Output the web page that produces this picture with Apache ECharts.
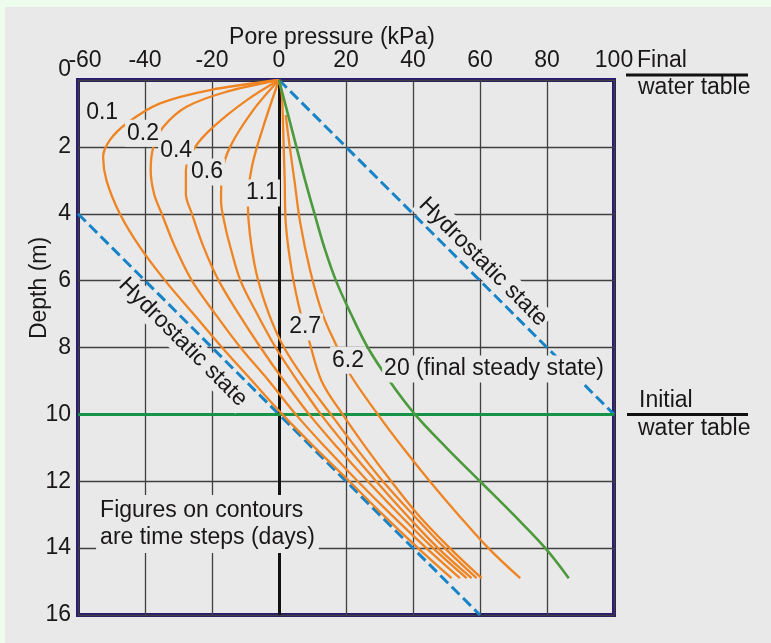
<!DOCTYPE html>
<html><head><meta charset="utf-8">
<script src="https://cdn.jsdelivr.net/npm/echarts/dist/echarts.min.js"></script>
<style>html,body{margin:0;padding:0;background:#eefcee;}#c{width:771px;height:643px;}</style>
</head><body><div id="c"></div>
<script>
// ---------- data ----------
const xTicks = [-60, -40, -20, 0, 20, 40, 60, 80, 100];
const yTicks = [0, 2, 4, 6, 8, 10, 12, 14, 16];

const c01_depth = [0, 0.3, 0.7, 1.3, 1.8, 2.3, 3, 4, 5, 6, 7, 8, 9, 10, 11, 12, 13, 14, 14.9];
const c01_p     = [0, -20.6, -35.5, -45.5, -50.5, -52.5, -51.5, -47.5, -41.5, -34, -25.5, -17, -8, 1, 10.8, 21, 31, 41.5, 51.5];

const c02_depth = [0, 0.35, 0.8, 1.4, 2, 2.7, 3.4, 4, 5, 6, 7, 8, 9, 10, 11, 12, 13, 14, 14.9];
const c02_p     = [0, -15.6, -27.6, -34.5, -37.5, -38.3, -37.3, -35, -31, -26, -19, -11.5, -3, 5, 14, 23.5, 33.5, 44, 54];

const c04_depth = [0, 0.6, 1.4, 2, 2.7, 3.4, 4, 5, 6, 7, 8, 9, 10, 11, 12, 13, 14, 14.9];
const c04_p     = [0, -9.6, -19.6, -25, -27.8, -27.8, -26, -22.5, -18, -12, -5.5, 1.5, 9, 17.5, 26.5, 36, 46, 56];

const c06_depth = [0, 0.9, 2, 2.8, 3.6, 4.4, 5, 6, 7, 8, 9, 10, 11, 12, 13, 14, 14.9];
const c06_p     = [0, -7.7, -14.6, -17, -17.3, -16, -14.5, -11.5, -6.5, -1, 5.5, 12.5, 20.5, 29, 38, 47.5, 57.5];

const c11_depth = [0, 1.4, 2.6, 3.7, 4.6, 5.8, 7, 8, 9, 10, 11, 12, 13, 14, 14.9];
const c11_p     = [0, -4.7, -8.1, -9.3, -8.7, -6.7, -3, 1.5, 8, 15.5, 23, 31, 40, 49.5, 59];

const c27_depth = [0, 0.4, 1, 2, 3, 4.25, 5.7, 7, 7.7, 9, 10, 11, 12, 13, 14, 14.9];
const c27_p     = [0, 0.8, 1.1, 1.4, 1.7, 2.0, 3.8, 6.5, 8.7, 12.7, 19, 26, 33.5, 41.5, 51, 60.5];

const c62_depth = [1.05, 2, 3, 4.25, 5.7, 7, 8, 8.8, 10, 11, 12, 13, 14, 14.9];
const c62_p     = [2, 3.2, 4.6, 6.3, 9.3, 13, 17.4, 21.2, 29.5, 37, 45, 53.5, 62.5, 72];

const c20_depth = [0, 1, 2, 3, 4, 5, 6, 7, 8, 9, 10, 11, 12, 13, 14, 14.9];
const c20_p     = [0, 2.6, 5.2, 7.8, 10.6, 13.5, 17, 21.5, 26.5, 33, 40.6, 50, 60, 70, 79.5, 86.5];

const hydroFinal_p = [0, 100];
const hydroFinal_depth = [0, 10];
const hydroInitial_p = [-60, 60];
const hydroInitial_depth = [4, 16];
const initialWaterTableDepth = 10;

// ---------- styling / layout ----------
const FONT = '"Liberation Sans", Arial, sans-serif';
const TXT = '#1a1718';
const FS = 23;
const PANEL = '#e9e9e9';
const ORANGE = '#ef8422';

function pairs(ps, ds) { return ps.map((p, i) => [p, ds[i]]); }

const orangeCurves = [
  [c01_p, c01_depth], [c02_p, c02_depth], [c04_p, c04_depth], [c06_p, c06_depth],
  [c11_p, c11_depth], [c27_p, c27_depth], [c62_p, c62_depth]
];

// annotation anchors (data units)
const annotations = [
  {t: '0.1', at: [-52.8, 0.99]},
  {t: '0.2', at: [-40.6, 1.59]},
  {t: '0.4', at: [-30.7, 2.12]},
  {t: '0.6', at: [-21.5, 2.75]},
  {t: '1.1', at: [-5.1, 3.38]},
  {t: '2.7', at: [7.8, 7.39]},
  {t: '6.2', at: [20.6, 8.38]},
  {t: '20 (final steady state)', at: [64.2, 8.64]},
  {t: 'Hydrostatic state', at: [60.9, 5.44], rot: -45},
  {t: 'Hydrostatic state', at: [-28.7, 7.84], rot: -45},
  {t: 'Figures on contours\nare time steps (days)', at: [-54.6, 13.28], left: true}
];

const series = [];
series.push({
  type: 'line', data: [], z: 2, silent: true,
  markLine: { silent: true, symbol: 'none', label: {show: false},
    lineStyle: {color: '#111', width: 3, type: 'solid'},
    data: [{xAxis: 0}] }
});
series.push({
  type: 'line', data: [], z: 3, silent: true,
  markLine: { silent: true, symbol: 'none', label: {show: false},
    lineStyle: {color: '#159447', width: 3, type: 'solid'},
    data: [{yAxis: initialWaterTableDepth}] }
});
[[hydroFinal_p, hydroFinal_depth], [hydroInitial_p, hydroInitial_depth]].forEach(([p, d]) => {
  series.push({ type: 'line', data: pairs(p, d), showSymbol: false, z: 4, silent: true,
    lineStyle: {color: '#1784c8', width: 3, type: [11, 5]} });
});
orangeCurves.forEach(([p, d]) => {
  series.push({ type: 'line', data: pairs(p, d), showSymbol: false, smooth: 0.35, z: 5, silent: true,
    lineStyle: {color: ORANGE, width: 2.3} });
});
series.push({ type: 'line', data: pairs(c20_p, c20_depth), showSymbol: false, smooth: 0.35, z: 5, silent: true,
  lineStyle: {color: '#4b9a3c', width: 2.6} });

const option = {
  backgroundColor: 'transparent',
  animation: false,
  grid: { left: 78, right: 157, top: 80, bottom: 28, show: true,
    borderColor: '#2a1a6c', borderWidth: 4, backgroundColor: 'transparent' },
  xAxis: {
    type: 'value', position: 'top', min: xTicks[0], max: xTicks[xTicks.length - 1], interval: 20,
    axisLine: {show: false}, axisTick: {show: false},
    axisLabel: { margin: 8, fontFamily: FONT, fontSize: FS, color: TXT,
      formatter: v => v === -60 ? '{m|-60}' : String(v),
      rich: { m: {padding: [0, 0, 0, 14], fontFamily: FONT, fontSize: FS, color: TXT} } },
    splitLine: {show: true, lineStyle: {color: '#404040', width: 1.3}}
  },
  yAxis: {
    type: 'value', inverse: true, min: yTicks[0], max: yTicks[yTicks.length - 1], interval: 2,
    axisLine: {show: false}, axisTick: {show: false},
    axisLabel: { margin: 7, fontFamily: FONT, fontSize: FS, color: TXT,
      formatter: v => v === 0 ? '{z|0}' : String(v),
      rich: { z: {padding: [0, 0, 20, 0], fontFamily: FONT, fontSize: FS, color: TXT} } },
    splitLine: {show: true, lineStyle: {color: '#404040', width: 1.3}}
  },
  series: series
};

const chart = echarts.init(document.getElementById('c'));
chart.setOption(option);

const px = v => chart.convertToPixel({gridIndex: 0}, v);
const tl = px([xTicks[xTicks.length - 1], 0]);
const wt = px([0, initialWaterTableDepth]);
const R = tl[0], T = tl[1], W = wt[1];
const txt = (x, y, s, extra) => Object.assign({ type: 'text', x: x, y: y, silent: true, z: 100,
  style: { text: s, fontFamily: FONT, fontSize: FS, fill: TXT, textAlign: 'left', textVerticalAlign: 'middle' } }, extra || {});
const hl = (x1, x2, y) => ({ type: 'line', silent: true, z: 100, shape: {x1: x1, y1: y, x2: x2, y2: y}, style: {stroke: '#111', lineWidth: 3} });

const annoGraphics = annotations.map(a => {
  const p = px(a.at);
  return { type: 'text', x: p[0], y: p[1], silent: true, z: 100,
    rotation: (a.rot || 0) * Math.PI / 180,
    style: { text: a.t, fontFamily: FONT, fontSize: FS, fill: TXT, lineHeight: 27,
      textAlign: a.left ? 'left' : 'center', textVerticalAlign: 'middle',
      backgroundColor: PANEL, padding: a.left ? [2, 4, 2, 4] : [0, 2, 0, 2] } };
});

chart.setOption({
  graphic: [
    { type: 'rect', z: -10, silent: true, shape: {x: 5, y: 7, width: 771, height: 643}, style: {fill: PANEL} },
    { type: 'text', silent: true, x: 332, y: 38, z: 100,
      style: { text: 'Pore pressure (kPa)', fontFamily: FONT, fontSize: FS, fill: TXT, textAlign: 'center', textVerticalAlign: 'middle' } },
    { type: 'text', silent: true, x: 40, y: 288, rotation: Math.PI / 2, z: 100,
      style: { text: 'Depth (m)', fontFamily: FONT, fontSize: FS, fill: TXT, textAlign: 'center', textVerticalAlign: 'middle' } },
    txt(R + 23, T - 19, 'Final'),
    hl(R + 12, R + 134, T - 5),
    txt(R + 24, T + 8, 'water table'),
    txt(R + 25, W - 14, 'Initial'),
    hl(R + 13, R + 134, W),
    txt(R + 24, W + 14, 'water table')
  ].concat(annoGraphics)
});
</script>
</body></html>
